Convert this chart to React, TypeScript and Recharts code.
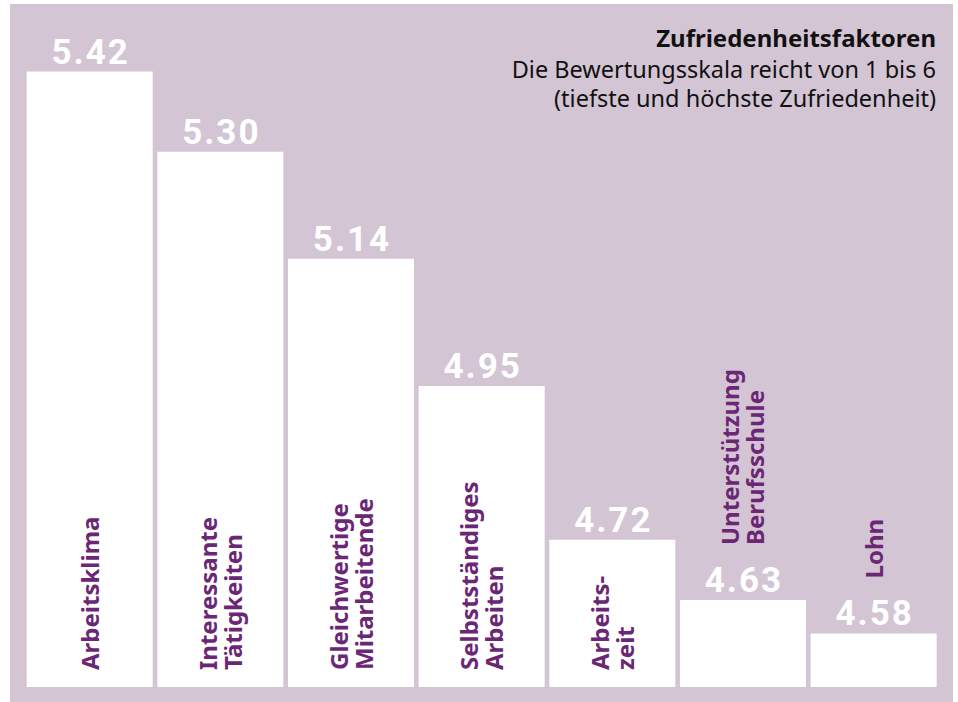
import React from 'react';
import { BarChart, Bar, XAxis, YAxis, LabelList } from 'recharts';

const categories = [
  'Arbeitsklima',
  'Interessante\nTätigkeiten',
  'Gleichwertige\nMitarbeitende',
  'Selbstständiges\nArbeiten',
  'Arbeits-\nzeit',
  'Unterstützung\nBerufsschule',
  'Lohn',
];
const values = [5.42, 5.3, 5.14, 4.95, 4.72, 4.63, 4.58];
const valueLabels = ['5.42', '5.30', '5.14', '4.95', '4.72', '4.63', '4.58'];
const yDomain: [number, number] = [4.5, 5.5];
const title = 'Zufriedenheitsfaktoren';
const subtitleLines = ['Die Bewertungsskala reicht von 1 bis 6', '(tiefste und höchste Zufriedenheit)'];

const data = categories.map((c, i) => ({ name: c, value: values[i], label: valueLabels[i] }));

const PURPLE = '#6b2775';
const BG = '#d3c5d4';

const ValueLabel = (props: any) => {
  const { x, y, width, value } = props;
  return (
    <text
      x={x + width / 2 + 1}
      y={y - 8}
      textAnchor="middle"
      fill="#ffffff"
      fontSize={35}
      fontWeight="bold"
      fontFamily="Roboto, 'DejaVu Sans', sans-serif"
      letterSpacing={2}
    >
      {value}
    </text>
  );
};

const CategoryLabel = (props: any) => {
  const { x, y, width, height, value } = props;
  const lines = String(value).split('\n');
  const n = lines.length;
  const cx = x + width / 2;
  const inside = height > 130;
  const anchorY = inside ? y + height - 17 : y - 55;
  return (
    <text
      transform={`translate(${cx},${anchorY}) rotate(-90)`}
      textAnchor="start"
      fill={PURPLE}
      fontSize={24}
      fontWeight="bold"
      fontFamily="'Noto Sans', 'Open Sans', sans-serif"
    >
      {lines.map((l, i) => (
        <tspan key={i} x={0} y={9 + (i - (n - 1) / 2) * 25}>
          {l}
        </tspan>
      ))}
    </text>
  );
};

export default function App() {
  return (
    <div style={{ position: 'absolute', left: 0, top: 0, width: 958, height: 702 }}>
      <div style={{ position: 'absolute', left: 10, top: 4, width: 943, height: 698, background: BG }}>
        <BarChart
          width={943}
          height={698}
          data={data}
          margin={{ top: 14, right: 13.7, bottom: 15, left: 14.7 }}
        >
          <XAxis dataKey="name" hide />
          <YAxis domain={yDomain} hide allowDataOverflow />
          <Bar dataKey="value" fill="#ffffff" barSize={126} isAnimationActive={false}>
            <LabelList dataKey="label" content={ValueLabel} />
            <LabelList dataKey="name" content={CategoryLabel} />
          </Bar>
        </BarChart>
      </div>
      <svg
        width={958}
        height={702}
        style={{ position: 'absolute', left: 0, top: 0, pointerEvents: 'none' }}
      >
        <text
          x={936}
          y={47}
          textAnchor="end"
          fontSize={24}
          fontWeight="bold"
          fill="#111"
          fontFamily="'Noto Sans', 'Open Sans', sans-serif"
        >
          {title}
        </text>
        {subtitleLines.map((s, i) => (
          <text
            key={i}
            x={936}
            y={78 + i * 29}
            textAnchor="end"
            fontSize={23.5}
            fill="#111"
            fontFamily="'Noto Sans', 'Open Sans', sans-serif"
          >
            {s}
          </text>
        ))}
      </svg>
    </div>
  );
}
